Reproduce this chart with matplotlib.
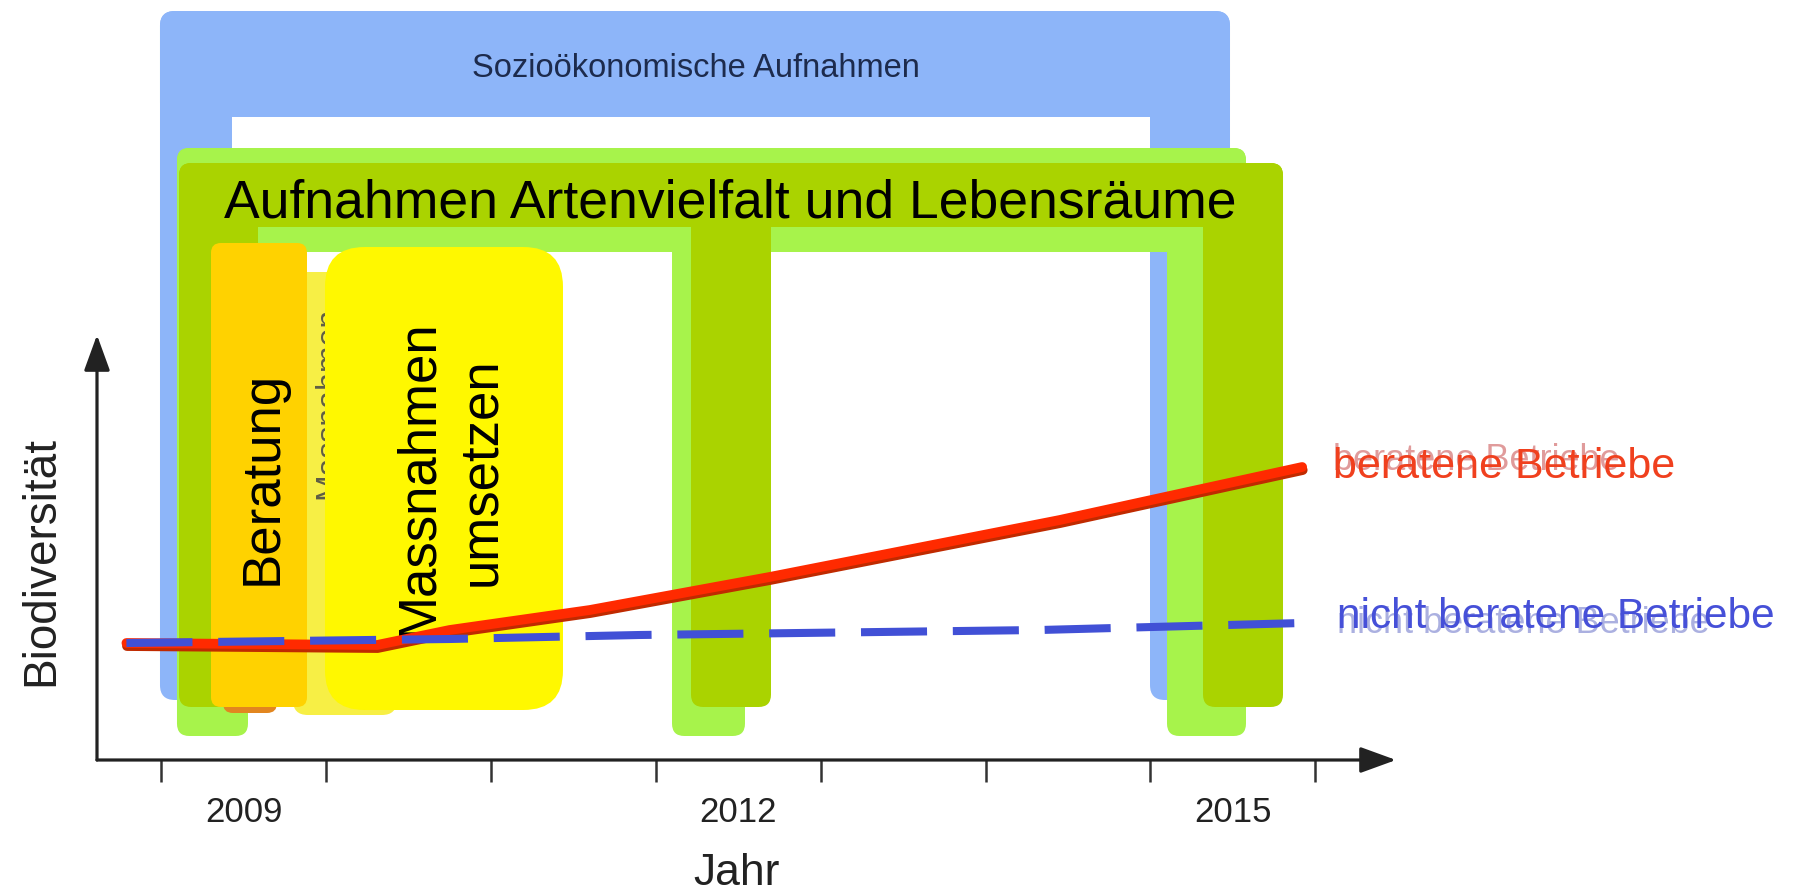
import matplotlib.pyplot as plt
from matplotlib.patches import FancyBboxPatch
import matplotlib.patheffects as pe

plt.rcParams['font.family'] = ['Liberation Sans', 'DejaVu Sans']

# Biodiversitaet (relative units) over the years
jahr_beraten = [2008.29, 2009.81, 2010.25, 2011.10, 2012.19, 2013.95, 2015.42]
bio_beraten = [1.17, 1.15, 1.30, 1.50, 1.83, 2.40, 2.93]
jahr_nicht = [2008.29, 2010.25, 2011.40, 2013.83, 2015.42]
bio_nicht = [1.17, 1.21, 1.25, 1.30, 1.37]

jahr_labels = ['2009', '2012', '2015']
jahr_label_pos = [2009, 2012, 2015]
jahr_grenzen = [2008.5, 2009.5, 2010.5, 2011.5, 2012.5, 2013.5, 2014.5, 2015.5]

fig = plt.figure(figsize=(17.94, 8.94), dpi=100)
ax = fig.add_axes([0, 0, 1, 1])
ax.set_xlim(2007.5234, 2018.4026)
ax.set_ylim(-1.34, 7.60)

# px per year / px per unit, keeps the rounded corners circular
ASPECT = 164.9 / 100


def rbox(x0, x1, y0, y1, color, r, z, alpha=1.0):
    p = FancyBboxPatch((x0, y0), x1 - x0, y1 - y0,
                       boxstyle=f"round,pad=0,rounding_size={r}",
                       mutation_aspect=ASPECT, fc=color, ec='none',
                       zorder=z, alpha=alpha)
    ax.add_patch(p)


# socio-economic surveys (blue arch)
blau = '#8db5f9'
rbox(2008.4936, 2014.9824, 6.43, 7.49, blau, 0.09, 1)
rbox(2008.4936, 2008.9303, 0.60, 7.49, blau, 0.09, 1)
rbox(2014.4973, 2014.9824, 0.60, 7.49, blau, 0.09, 1)
ax.text(2011.744, 6.83, 'Sozioökonomische Aufnahmen', fontsize=23.5,
        color='#1d2b4d', ha='center', va='baseline', zorder=2)

# biodiversity surveys (light green + dark green arches)
hellgruen = '#a7f34b'
rbox(2008.5967, 2015.0794, 5.08, 6.12, hellgruen, 0.075, 2)
for x0, x1 in [(2008.5967, 2009.0273), (2011.5986, 2012.0412), (2014.6004, 2015.0794)]:
    rbox(x0, x1, 0.24, 6.12, hellgruen, 0.075, 2)

gruen = '#aad300'
rbox(2008.6089, 2015.3038, 5.33, 5.97, gruen, 0.075, 3)
for x0, x1 in [(2008.6089, 2009.0879), (2011.7138, 2012.1989), (2014.8187, 2015.3038)]:
    rbox(x0, x1, 0.53, 5.97, gruen, 0.075, 3)
ax.text(2011.95, 5.43, 'Aufnahmen Artenvielfalt und Lebensräume', fontsize=38.5,
        color='black', ha='center', va='baseline', zorder=4)

# faded older boxes behind
rbox(2008.8757, 2009.2032, 0.47, 4.90, '#e2861f', 0.06, 4)
rbox(2009.30, 2009.93, 0.45, 4.88, '#f7ef45', 0.09, 4)
ax.text(2009.561, 3.57, 'Massnahmen', fontsize=23, color='#444', alpha=0.85,
        rotation=90, rotation_mode='anchor', ha='center', va='baseline', zorder=5)

# Beratung / Massnahmen
rbox(2008.8029, 2009.3851, 0.53, 5.17, '#ffd200', 0.06, 6)
rbox(2009.4942, 2010.9375, 0.50, 5.13, '#fff800', 0.24, 6)
ax.text(2009.2032, 2.82, 'Beratung', fontsize=38, rotation=90,
        rotation_mode='anchor', ha='center', va='baseline', zorder=7)
ax.text(2010.1431, 2.825, 'Massnahmen', fontsize=38, rotation=90,
        rotation_mode='anchor', ha='center', va='baseline', zorder=7)
ax.text(2010.5252, 2.883, 'umsetzen', fontsize=38, rotation=90,
        rotation_mode='anchor', ha='center', va='baseline', zorder=7)

# lines
ax.plot(jahr_beraten, bio_beraten, color='#ff2a00', lw=7, solid_capstyle='round',
        zorder=10, path_effects=[pe.SimpleLineShadow(offset=(0.4, -2.2), shadow_color='#c02a00', alpha=1),
                                 pe.Normal()])
ax.plot(jahr_nicht, bio_nicht, color='#4150d6', lw=5.8, dashes=(8.2, 3.2),
        dash_capstyle='butt', zorder=11)

# line labels (with the faded duplicates)
ax.text(2015.607, 2.90, 'beratene Betriebe', fontsize=26, color='#c84a4a', alpha=0.55,
        ha='left', va='baseline', zorder=12)
ax.text(2015.607, 2.82, 'beratene Betriebe', fontsize=31, color='#f0401e',
        ha='left', va='baseline', zorder=13)
ax.text(2015.631, 1.27, 'nicht beratene Betriebe', fontsize=26, color='#6670c8', alpha=0.55,
        ha='left', va='baseline', zorder=12)
ax.text(2015.631, 1.32, 'nicht beratene Betriebe', fontsize=30.5, color='#4650d8',
        ha='left', va='baseline', zorder=13)

# axes with arrows
for s in ax.spines.values():
    s.set_visible(False)
ax.spines['bottom'].set_position(('data', 0))
ax.set_yticks([])
ax.set_xticks(jahr_grenzen)
ax.set_xticklabels([])
ax.set_xticks(jahr_label_pos, minor=True)
ax.set_xticklabels(jahr_labels, minor=True)
ax.tick_params(axis='x', which='major', direction='out', length=15.8, width=1.8, color='#333')
ax.tick_params(axis='x', which='minor', length=0, pad=26, labelsize=25, labelcolor='#222')

arrow = dict(arrowstyle='-|>,head_length=1.1,head_width=0.4', lw=2.3, color='#222',
             mutation_scale=20, shrinkA=0, shrinkB=0)
ax.annotate('', xy=(2015.9891, 0), xytext=(2008.1116, 0), arrowprops=arrow, zorder=14)
ax.annotate('', xy=(2008.1116, 4.25), xytext=(2008.1116, 0), arrowprops=arrow, zorder=14)

ax.text(2007.8447, 1.995, 'Biodiversität', fontsize=33, color='#222', rotation=90,
        rotation_mode='anchor', ha='center', va='baseline')
ax.text(2011.987, -1.25, 'Jahr', fontsize=32, color='#222', ha='center', va='baseline')

fig.savefig('out.png', dpi=100)
